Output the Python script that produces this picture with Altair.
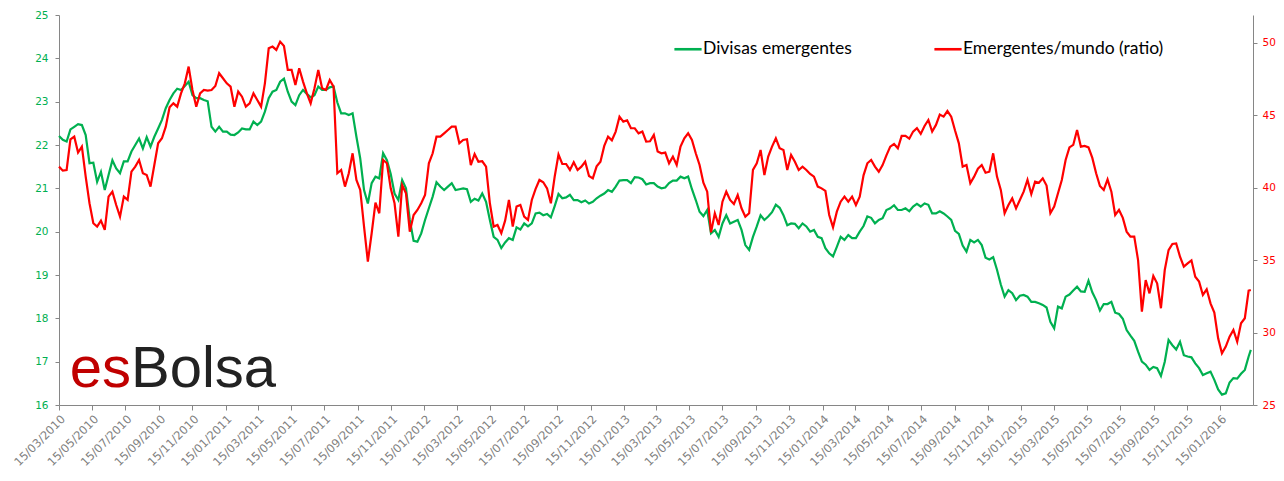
import altair as alt
import pandas as pd

# fechas semanales desde el 15/03/2010, mas el ultimo dato
fechas = list(pd.date_range("2010-03-15", periods=313, freq="7D")) + [pd.Timestamp("2016-03-11")]

divisas = [
    22.21, 22.12, 22.08, 22.36, 22.42, 22.48, 22.46, 22.23, 21.58, 21.59,
    21.15, 21.38, 20.96, 21.31, 21.65, 21.46, 21.35, 21.62, 21.62, 21.85,
    22.00, 22.15, 21.92, 22.18, 21.96, 22.19, 22.38, 22.58, 22.85, 23.04,
    23.19, 23.30, 23.27, 23.36, 23.46, 23.15, 23.08, 23.08, 23.04, 23.01,
    22.42, 22.31, 22.42, 22.31, 22.31, 22.24, 22.23, 22.29, 22.38, 22.36,
    22.36, 22.54, 22.46, 22.54, 22.77, 23.08, 23.23, 23.27, 23.46, 23.53,
    23.23, 23.00, 22.92, 23.15, 23.27, 23.18, 23.10, 23.15, 23.35, 23.27,
    23.27, 23.33, 23.35, 22.98, 22.73, 22.73, 22.69, 22.73, 22.19, 21.69,
    20.96, 20.65, 21.12, 21.27, 21.23, 21.81, 21.65, 21.33, 20.88, 20.73,
    21.19, 21.00, 20.27, 19.79, 19.77, 19.96, 20.27, 20.54, 20.81, 21.14,
    21.04, 20.96, 21.04, 21.12, 20.96, 20.98, 21.00, 20.98, 20.69, 20.76,
    20.72, 20.88, 20.69, 20.27, 19.88, 19.81, 19.62, 19.75, 19.85, 19.81,
    20.10, 20.05, 20.19, 20.12, 20.19, 20.42, 20.44, 20.38, 20.41, 20.33,
    20.59, 20.87, 20.77, 20.79, 20.85, 20.73, 20.73, 20.68, 20.72, 20.65,
    20.69, 20.77, 20.83, 20.88, 20.96, 20.92, 21.04, 21.18, 21.19, 21.19,
    21.12, 21.26, 21.25, 21.21, 21.09, 21.12, 21.12, 21.04, 21.00, 21.02,
    21.12, 21.18, 21.18, 21.27, 21.23, 21.27, 20.98, 20.73, 20.46, 20.36,
    20.50, 19.96, 20.04, 19.88, 20.19, 20.38, 20.19, 20.23, 20.27, 20.04,
    19.69, 19.58, 19.88, 20.12, 20.38, 20.27, 20.35, 20.45, 20.62, 20.55,
    20.38, 20.15, 20.19, 20.18, 20.08, 20.19, 20.12, 20.00, 20.04, 19.88,
    19.85, 19.62, 19.50, 19.43, 19.65, 19.88, 19.81, 19.92, 19.85, 19.85,
    20.00, 20.13, 20.35, 20.32, 20.19, 20.27, 20.31, 20.50, 20.54, 20.61,
    20.50, 20.50, 20.54, 20.47, 20.58, 20.64, 20.58, 20.65, 20.62, 20.42,
    20.42, 20.47, 20.42, 20.35, 20.27, 20.02, 19.95, 19.68, 19.54, 19.81,
    19.75, 19.81, 19.69, 19.40, 19.36, 19.41, 19.12, 18.78, 18.50, 18.65,
    18.58, 18.42, 18.52, 18.54, 18.50, 18.38, 18.38, 18.35, 18.31, 18.25,
    17.92, 17.77, 18.27, 18.23, 18.50, 18.55, 18.64, 18.73, 18.62, 18.61,
    18.87, 18.60, 18.42, 18.18, 18.33, 18.33, 18.38, 18.13, 18.10, 17.99,
    17.73, 17.60, 17.48, 17.23, 17.00, 16.93, 16.81, 16.88, 16.85, 16.67,
    17.00, 17.50, 17.38, 17.28, 17.46, 17.15, 17.12, 17.10, 16.96, 16.85,
    16.69, 16.73, 16.77, 16.58, 16.36, 16.24, 16.27, 16.52, 16.62, 16.61,
    16.72, 16.81, 17.12, 17.27,
]

ratio = [
    41.46, 41.18, 41.23, 43.35, 43.53, 42.43, 42.84, 40.77, 38.93, 37.55,
    37.32, 37.73, 37.09, 39.39, 39.73, 38.81, 38.01, 39.39, 39.16, 41.11,
    41.46, 41.92, 41.00, 40.88, 40.08, 41.57, 43.07, 43.42, 44.22, 45.56,
    45.83, 45.60, 46.52, 47.21, 48.37, 46.75, 45.60, 46.52, 46.75, 46.71,
    46.75, 47.03, 47.91, 47.56, 47.21, 46.98, 45.60, 46.64, 46.29, 45.60,
    45.83, 46.52, 46.06, 45.60, 47.21, 49.63, 49.75, 49.52, 50.09, 49.79,
    48.14, 48.14, 47.10, 48.25, 47.33, 46.52, 45.83, 46.87, 48.14, 46.87,
    46.75, 47.44, 46.98, 41.00, 41.23, 40.08, 41.00, 42.38, 40.54, 39.85,
    37.32, 34.90, 36.86, 38.97, 38.24, 41.92, 41.69, 39.96, 38.93, 36.63,
    40.19, 39.62, 36.97, 38.12, 38.47, 38.93, 39.50, 41.69, 42.38, 43.53,
    43.53, 43.76, 43.99, 44.22, 44.22, 43.07, 43.30, 43.35, 41.57, 42.33,
    41.80, 41.83, 41.46, 38.93, 37.32, 37.43, 36.86, 37.73, 39.16, 37.32,
    38.70, 38.81, 38.01, 37.78, 39.16, 39.92, 40.54, 40.38, 39.96, 38.93,
    40.77, 42.29, 41.64, 41.64, 41.23, 41.76, 41.23, 41.46, 41.80, 40.81,
    40.65, 41.48, 41.80, 42.89, 43.53, 43.28, 43.88, 44.91, 44.57, 44.66,
    44.11, 44.11, 43.76, 43.88, 43.19, 43.21, 43.65, 42.50, 42.38, 42.43,
    41.69, 42.15, 41.57, 42.84, 43.42, 43.76, 43.30, 42.38, 41.57, 40.35,
    39.73, 36.92, 38.24, 37.43, 39.04, 39.73, 39.16, 38.88, 39.50, 38.58,
    38.01, 38.24, 41.23, 41.69, 42.61, 40.88, 42.15, 42.84, 43.42, 42.73,
    42.61, 41.23, 42.27, 41.80, 41.23, 41.46, 41.23, 40.95, 40.77, 40.08,
    39.96, 39.78, 38.12, 37.27, 38.35, 39.04, 39.39, 39.04, 39.39, 38.81,
    39.39, 40.86, 41.69, 41.92, 41.46, 41.11, 41.57, 42.24, 42.84, 43.02,
    42.73, 43.58, 43.58, 43.39, 43.88, 44.11, 43.72, 44.27, 44.68, 43.88,
    44.34, 45.05, 44.91, 45.30, 44.91, 43.95, 43.07, 41.46, 41.57, 40.31,
    40.77, 41.32, 41.57, 41.04, 41.11, 42.38, 40.77, 39.85, 38.24, 38.81,
    39.27, 38.58, 39.16, 39.73, 40.54, 39.57, 40.42, 40.35, 40.65, 40.15,
    38.24, 38.70, 39.62, 40.54, 41.92, 42.79, 42.96, 43.99, 42.84, 42.89,
    42.79, 42.06, 41.00, 40.12, 39.85, 40.58, 39.73, 38.12, 38.47, 37.92,
    36.97, 36.63, 36.63, 35.01, 31.45, 33.63, 32.71, 33.91, 33.40, 31.68,
    34.32, 35.70, 36.12, 36.16, 35.24, 34.55, 34.78, 34.99, 33.86, 33.52,
    32.60, 32.99, 32.02, 31.38, 29.60, 28.57, 29.03, 29.72, 30.18, 29.37,
    30.64, 30.99, 32.90, 32.94,
]

series = ["Divisas emergentes", "Emergentes/mundo (ratio)"]
colores = ["#00B050", "#FF0000"]

div_df = pd.DataFrame({"fecha": fechas, "valor": divisas, "serie": series[0]})
rat_df = pd.DataFrame({"fecha": fechas, "valor": ratio, "serie": series[1]})

# ticks del eje x: el 15 de cada dos meses
ticks_x = []
for y in range(2010, 2017):
    for m in (1, 3, 5, 7, 9, 11):
        if (2010, 3) <= (y, m) <= (2016, 1):
            ticks_x.append(alt.DateTime(year=y, month=m, date=15))

gris = "#868686"

x_enc = alt.X(
    "fecha:T",
    title=None,
    scale=alt.Scale(domain=[alt.DateTime(year=2010, month=3, date=15),
                            alt.DateTime(year=2016, month=3, date=15)]),
    axis=alt.Axis(
        values=ticks_x, format="%d/%m/%Y", labelAngle=-45,
        labelColor="#808080", labelFont="DejaVu Sans", labelFontSize=11.5,
        domainColor=gris, tickColor=gris, tickSize=5, grid=False,
        labelOverlap=False, labelPadding=3,
    ),
)

color_enc = alt.Color(
    "serie:N",
    scale=alt.Scale(domain=series, range=colores),
    legend=alt.Legend(
        title=None, orient="none", legendX=614, legendY=19,
        direction="horizontal", symbolType="stroke", symbolSize=740,
        symbolStrokeWidth=2.6, labelFont="Lato", labelFontSize=17.5,
        labelColor="#000000", labelOffset=0, labelLimit=400,
        columnPadding=77, padding=0,
    ),
)

verde = alt.Chart(div_df).mark_line(strokeWidth=2.2).encode(
    x=x_enc,
    y=alt.Y(
        "valor:Q", title=None,
        scale=alt.Scale(domain=[16, 25], nice=False, zero=False),
        axis=alt.Axis(
            orient="left", values=list(range(16, 26)), labelColor="#00B050",
            labelFont="DejaVu Sans", labelFontSize=10.5, domainColor=gris,
            tickColor=gris, tickSize=4, labelPadding=7, grid=False,
        ),
    ),
    color=color_enc,
)

rojo = alt.Chart(rat_df).mark_line(strokeWidth=2.2).encode(
    x=x_enc,
    y=alt.Y(
        "valor:Q", title=None,
        scale=alt.Scale(domain=[25, 51.93], nice=False, zero=False),
        axis=alt.Axis(
            orient="right", values=[25, 30, 35, 40, 45, 50], labelColor="#FF0000",
            labelFont="DejaVu Sans", labelFontSize=10.5, domainColor=gris,
            tickColor=gris, tickSize=4, labelPadding=5, grid=False,
        ),
    ),
    color=color_enc,
)

logo_df = pd.DataFrame({"a": [0]})
logo_es = alt.Chart(logo_df).mark_text(
    text="es", font="Liberation Sans", fontSize=58, color="#C00000",
    align="right", baseline="alphabetic",
).encode(x=alt.value(72), y=alt.value(372))
logo_bolsa = alt.Chart(logo_df).mark_text(
    text="Bolsa", font="Liberation Sans", fontSize=58, color="#222222",
    align="left", baseline="alphabetic",
).encode(x=alt.value(72), y=alt.value(372))

chart = alt.layer(verde, rojo, logo_es, logo_bolsa).resolve_scale(
    y="independent"
).properties(
    width=1194, height=390,
    autosize=alt.AutoSizeParams(type="none"),
    padding={"left": 51, "top": 7, "right": 23, "bottom": 66},
).configure_view(stroke=None)

chart.save("out.html", embed_options={"renderer": "svg", "actions": False})
